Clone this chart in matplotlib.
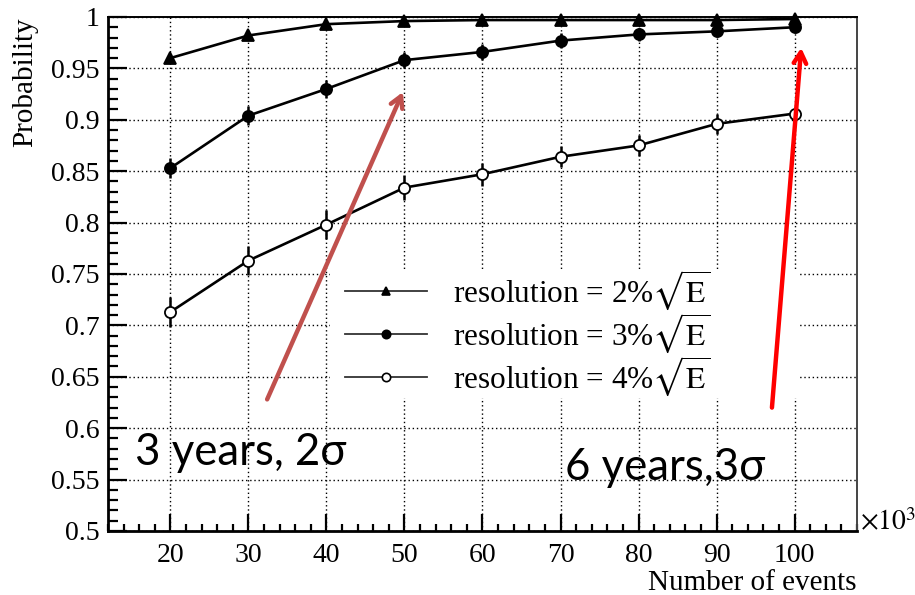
import matplotlib
matplotlib.use("Agg")
import matplotlib.pyplot as plt
from matplotlib.ticker import MultipleLocator, FormatStrFormatter
from matplotlib.patches import Rectangle

# Дані (кількість подій у тисячах)
events = [20, 30, 40, 50, 60, 70, 80, 90, 100]
prob_2 = [0.960, 0.982, 0.993, 0.996, 0.997, 0.997, 0.997, 0.997, 0.998]
err_2 = [0.003, 0.003, 0.003, 0.002, 0.002, 0.002, 0.002, 0.002, 0.002]
prob_3 = [0.853, 0.904, 0.930, 0.958, 0.966, 0.977, 0.983, 0.986, 0.990]
err_3 = [0.010, 0.009, 0.009, 0.008, 0.008, 0.007, 0.006, 0.005, 0.005]
prob_4 = [0.713, 0.763, 0.798, 0.834, 0.847, 0.864, 0.875, 0.896, 0.906]
err_4 = [0.015, 0.014, 0.014, 0.012, 0.011, 0.010, 0.010, 0.010, 0.006]
labels = [r"resolution = 2%$\sqrt{\mathrm{E}}$",
          r"resolution = 3%$\sqrt{\mathrm{E}}$",
          r"resolution = 4%$\sqrt{\mathrm{E}}$"]

plt.rcParams["font.family"] = ["Liberation Serif", "DejaVu Serif"]
plt.rcParams["mathtext.fontset"] = "stix"

fig = plt.figure(figsize=(9.15, 5.95), dpi=100)
ax = fig.add_axes([0.118, 0.1076, 0.8186, 0.8639])

# Сітка
ax.grid(True, color="black", linestyle=(0, (1, 2)), linewidth=1.0)
ax.set_axisbelow(True)

# Біле тло легенди, що закриває сітку
ax.add_patch(Rectangle((0.296, 0.259), 0.628, 0.249, transform=ax.transAxes,
                       facecolor="white", edgecolor="none", zorder=1.5))

series = [
    (prob_2, err_2, "^", "black"),
    (prob_3, err_3, "o", "black"),
    (prob_4, err_4, "o", "white"),
]
handles = []
for (vals, errs, mk, face), lab in zip(series, labels):
    ax.errorbar(events, vals, yerr=errs, fmt="none", ecolor="black",
                elinewidth=1.8, capsize=0, zorder=3, clip_on=False)
    ax.plot(events, vals, color="black", linewidth=1.9, marker=mk,
            markersize=8, markerfacecolor=face, markeredgecolor="black",
            markeredgewidth=1.3, zorder=4, clip_on=False)
    h, = ax.plot([], [], color="#333333", linewidth=1.3, marker=mk,
                 markersize=6, markerfacecolor=face,
                 markeredgecolor="black", markeredgewidth=1.2, label=lab)
    handles.append(h)

ax.set_xlim(12, 108)
ax.set_ylim(0.5, 1.0)

ax.xaxis.set_major_locator(MultipleLocator(10))
ax.xaxis.set_minor_locator(MultipleLocator(2))
ax.yaxis.set_major_locator(MultipleLocator(0.05))
ax.yaxis.set_minor_locator(MultipleLocator(0.01))
ax.yaxis.set_major_formatter(FormatStrFormatter("%g"))
ax.set_xticks([20, 30, 40, 50, 60, 70, 80, 90, 100])

ax.tick_params(axis="both", which="both", direction="in", top=False,
               right=False, width=1.6, labelsize=20)
ax.tick_params(axis="y", which="major", length=14, pad=6)
ax.tick_params(axis="y", which="minor", length=7)
ax.tick_params(axis="x", which="major", length=12, pad=9)
ax.tick_params(axis="x", which="minor", length=5)

for side in ["left", "bottom"]:
    ax.spines[side].set_linewidth(2.0)
for side in ["top", "right"]:
    ax.spines[side].set_linewidth(1.4)
ax.spines["right"].set_color("#444444")

leg = ax.legend(handles=handles, loc="upper left",
                bbox_to_anchor=(0.3164, 0.512), frameon=False, fontsize=22.5,
                handlelength=2.62, handletextpad=0.83, labelspacing=-0.03,
                borderaxespad=0, borderpad=0)

# Підписи осей
fig.text(25 / 915, 1 - 17 / 595, "Probability", rotation=90, ha="center",
         va="top", fontsize=21)
fig.text(857 / 915, 1 - 583 / 595, "Number of events", ha="right",
         va="center", fontsize=21)
fig.text(860 / 915, 1 - 523 / 595, r"$\times10^{3}$", ha="left",
         va="center", fontsize=20)

# Стрілки та примітки
ax.annotate("", xy=(49.8, 0.927), xytext=(32.4, 0.628),
            arrowprops=dict(arrowstyle="->,head_length=0.8,head_width=0.45",
                            color="#C0504D", linewidth=3.2,
                            shrinkA=0, shrinkB=0), zorder=6)
ax.annotate("", xy=(100.85, 0.970), xytext=(97.1, 0.620),
            arrowprops=dict(arrowstyle="->,head_length=0.8,head_width=0.45",
                            color="#FF0000", linewidth=3.2,
                            shrinkA=0, shrinkB=0), zorder=6)
ax.text(15.5, 0.564, "3 years, 2σ", fontsize=31.5,
        family=["Lato", "DejaVu Sans"], ha="left", va="baseline", zorder=6)
ax.text(70.6, 0.5496, "6 years,3σ", fontsize=31.5,
        family=["Lato", "DejaVu Sans"], ha="left", va="baseline", zorder=6)

fig.savefig("out.png", dpi=100)
